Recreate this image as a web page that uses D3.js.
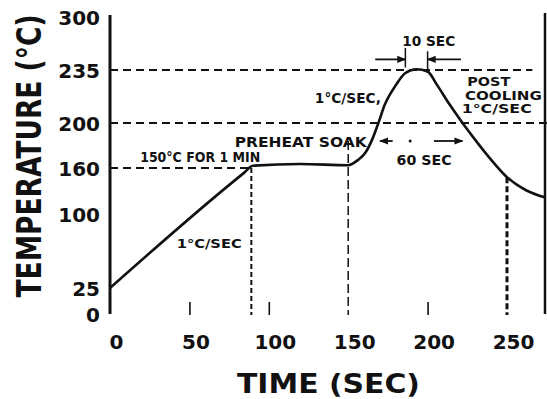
<!DOCTYPE html>
<html>
<head>
<meta charset="utf-8">
<script src="https://cdn.jsdelivr.net/npm/d3@7"></script>
<style>
  body { margin: 0; background: #fff; }
  text { font-family: "DejaVu Sans", sans-serif; font-weight: bold; fill: #111; }
</style>
</head>
<body>
<div id="chart"></div>
<script>
// reflow profile, values (sec, °C)
var time = [0, 84, 90, 120, 150, 156, 161, 165, 169, 173, 180, 186, 193, 200, 206, 214, 222, 230, 239, 250, 262, 275]
var temp = [25, 153, 162, 163.5, 162.5, 167, 174, 185, 200, 212, 225, 233, 236, 234, 225, 212, 200, 185, 169, 148, 131, 121]

// axis ticks (the temperature axis is not evenly spaced in the original)
var xTicks = [0, 50, 100, 150, 200, 250]
var yTicks = [0, 25, 100, 160, 200, 235, 300]

// dashed guide lines
var hGuideTemp = [235, 200, 160]
var hGuideEnd = [266, 276, 90]
var vGuideTime = [89, 150, 250]
var vGuideTop = [160, 184, 148]

var width = 547, height = 399

var svg = d3.select("#chart")
  .append("svg")
    .attr("width", width)
    .attr("height", height)

var x = d3.scaleLinear()
  .domain([0, 250])
  .range([110, 507])

// piecewise scale, one stop per labelled temperature
var y = d3.scaleLinear()
  .domain(yTicks)
  .range([314, 288, 214, 168, 123, 70, 17])

var defs = svg.append("defs")
defs.append("clipPath").attr("id", "plot")
  .append("rect").attr("x", 110).attr("y", 0).attr("width", 436).attr("height", 320)
defs.append("marker")
    .attr("id", "head")
    .attr("viewBox", "0 0 10 10")
    .attr("refX", 9).attr("refY", 5)
    .attr("markerWidth", 5).attr("markerHeight", 5)
    .attr("orient", "auto")
  .append("path")
    .attr("d", "M0,1 L10,5 L0,9 z")
    .attr("fill", "#111")

// horizontal dashed guides
svg.selectAll("hguide")
  .data(hGuideTemp)
  .enter()
  .append("line")
    .attr("x1", x(0))
    .attr("x2", function(d, i) { return x(hGuideEnd[i]) })
    .attr("y1", function(d) { return y(d) })
    .attr("y2", function(d) { return y(d) })
    .attr("stroke", "#111")
    .attr("stroke-width", 2.2)
    .attr("stroke-dasharray", "8,5")

// vertical dashed guides
svg.selectAll("vguide")
  .data(vGuideTime)
  .enter()
  .append("line")
    .attr("x1", function(d) { return x(d) })
    .attr("x2", function(d) { return x(d) })
    .attr("y1", function(d, i) { return y(vGuideTop[i]) })
    .attr("y2", y(0) + 1)
    .attr("stroke", "#111")
    .attr("stroke-width", function(d, i) { return [2, 1.5, 3][i] })
    .attr("stroke-dasharray", function(d, i) { return ["5,3", "9,4", "6,3"][i] })

// the profile curve
var line = d3.line()
  .x(function(d, i) { return x(time[i]) })
  .y(function(d, i) { return y(temp[i]) })
  .curve(d3.curveMonotoneX)

svg.append("path")
  .datum(time)
  .attr("d", line)
  .attr("clip-path", "url(#plot)")
  .attr("fill", "none")
  .attr("stroke", "#111")
  .attr("stroke-width", 2.6)

// y axis: labels from d3, heavy line drawn by hand
var yAxis = svg.append("g")
  .attr("transform", "translate(" + x(0) + ",0)")
  .call(d3.axisLeft(y).tickValues(yTicks).tickSize(0).tickPadding(10))
yAxis.select(".domain").remove()
yAxis.selectAll("text")
  .attr("font-size", 20)
  .attr("font-family", null)
  .attr("dy", "0.36em")

svg.append("line")
  .attr("x1", x(0)).attr("x2", x(0))
  .attr("y1", y(300) - 2).attr("y2", y(0))
  .attr("stroke", "#111")
  .attr("stroke-width", 3)

// right border
svg.append("line")
  .attr("x1", 545).attr("x2", 545)
  .attr("y1", y(300) - 4).attr("y2", y(0))
  .attr("stroke", "#111")
  .attr("stroke-width", 2.5)

// x axis: small upward ticks, labels below
var xAxis = svg.append("g")
  .attr("transform", "translate(0," + (y(0) + 1) + ")")
  .call(d3.axisBottom(x).tickValues(xTicks).tickSizeInner(-13).tickSizeOuter(0).tickPadding(20))
xAxis.select(".domain").remove()
xAxis.selectAll(".tick line")
  .attr("stroke", "#111")
  .attr("stroke-width", 1.6)
  .attr("opacity", function(d) { return (d == 0 || d == 150 || d == 250) ? 0 : 1 })
xAxis.selectAll("text")
  .attr("font-size", 20)
  .attr("font-family", null)
  .attr("dx", 6)

// axis titles (y title is tall and narrow, so stretch the glyphs)
svg.append("text")
  .attr("transform", "translate(41,156) rotate(-90) scale(1,1.25)")
  .attr("text-anchor", "middle")
  .attr("font-family", "'DejaVu Sans Condensed', 'DejaVu Sans', sans-serif")
  .attr("font-size", 27)
  .attr("textLength", 283)
  .attr("lengthAdjust", "spacingAndGlyphs")
  .text("TEMPERATURE (°C)")

svg.append("text")
  .attr("x", 237)
  .attr("y", 393)
  .attr("font-size", 27)
  .attr("textLength", 183)
  .attr("lengthAdjust", "spacingAndGlyphs")
  .text("TIME (SEC)")

// annotations, placed in data units (sec, °C)
var notes = [
  { t: "10 SEC", sec: 184, c: 264, size: 14, len: 53 },
  { t: "1°C/SEC,", sec: 129, c: 213, size: 14, len: 66 },
  { t: "POST", sec: 225, c: 224.5, size: 13, len: 43 },
  { t: "COOLING", sec: 223.5, c: 215.5, size: 13, len: 77 },
  { t: "1°C/SEC", sec: 221.5, c: 206.5, size: 13, len: 70 },
  { t: "PREHEAT SOAK", sec: 78.5, c: 178.5, size: 14, len: 132 },
  { t: "60 SEC", sec: 180.5, c: 162.5, size: 14, len: 55 },
  { t: "150°C FOR 1 MIN", sec: 19, c: 165.5, size: 14, len: 120 },
  { t: "1°C/SEC", sec: 42, c: 66, size: 13, len: 65 }
]

svg.selectAll("note")
  .data(notes)
  .enter()
  .append("text")
    .attr("x", function(d) { return x(d.sec) })
    .attr("y", function(d) { return y(d.c) })
    .attr("font-size", function(d) { return d.size })
    .attr("textLength", function(d) { return d.len })
    .attr("lengthAdjust", "spacingAndGlyphs")
    .text(function(d) { return d.t })

// 10 sec bracket above the peak
var bracket = [[186, 262, 238], [200, 258, 233]]
svg.selectAll("bracket")
  .data(bracket)
  .enter()
  .append("line")
    .attr("x1", function(d) { return x(d[0]) })
    .attr("x2", function(d) { return x(d[0]) })
    .attr("y1", function(d) { return y(d[1]) })
    .attr("y2", function(d) { return y(d[2]) })
    .attr("stroke", "#111")
    .attr("stroke-width", 1.5)

// arrows: [from sec, to sec, at °C]
var arrows = [[167, 186, 248], [221, 200, 248], [178, 170, 184], [204, 222, 184]]
svg.selectAll("arrow")
  .data(arrows)
  .enter()
  .append("line")
    .attr("x1", function(d) { return x(d[0]) })
    .attr("x2", function(d) { return x(d[1]) })
    .attr("y1", function(d) { return y(d[2]) })
    .attr("y2", function(d) { return y(d[2]) })
    .attr("stroke", "#111")
    .attr("stroke-width", 1.8)
    .attr("marker-end", "url(#head)")

svg.append("circle")
  .attr("cx", x(189))
  .attr("cy", y(184))
  .attr("r", 1.5)
  .attr("fill", "#111")
</script>
</body>
</html>
